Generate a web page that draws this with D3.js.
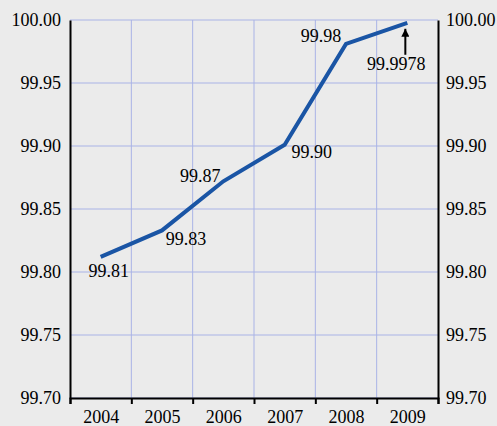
<!DOCTYPE html>
<html>
<head>
<meta charset="utf-8">
<script src="https://cdn.jsdelivr.net/npm/d3@7"></script>
<style>
    body { margin: 0; background: #ebebeb; }
    svg text { font-family: "Liberation Serif", "DejaVu Serif", serif; }
</style>
</head>
<body>
<div id="chart"></div>
<script>
// values
const years = [2004, 2005, 2006, 2007, 2008, 2009];
const values = [99.812, 99.833, 99.872, 99.901, 99.981, 99.9978];
const pointLabels = ["99.81", "99.83", "99.87", "99.90", "99.98", "99.9978"];
const yTicks = [99.70, 99.75, 99.80, 99.85, 99.90, 99.95, 100.00];
const yearEdges = [2003.5, 2004.5, 2005.5, 2006.5, 2007.5, 2008.5, 2009.5];

// label offsets from their point, in px
const labelOffsets = [[8, 20], [24, 15], [-23, 1], [27, 13], [-25, -2], [-11, 47]];

const w = 497, h = 426;
const margin = {top: 20, right: 59, bottom: 28, left: 70};
const width = w - margin.left - margin.right,
    height = h - margin.top - margin.bottom;

const gridColor = "#a9b3e6",
    lineColor = "#1a55a5",
    fontFamily = "'Liberation Serif', 'DejaVu Serif', serif";

let svg = d3.select("#chart")
    .append("svg")
    .attr("width", w)
    .attr("height", h)
    .attr("font-family", fontFamily);

let g = svg.append("g")
    .attr("transform", "translate(" + margin.left + "," + margin.top + ")");

let x = d3.scaleLinear()
    .domain([yearEdges[0], yearEdges[yearEdges.length - 1]])
    .range([0, width]);

let y = d3.scaleLinear()
    .domain([99.70, 100.00])
    .range([height, 0]);

// grid
g.append("g")
    .selectAll("line")
    .data(yTicks)
    .join("line")
    .attr("x1", 0)
    .attr("x2", width)
    .attr("y1", d => y(d))
    .attr("y2", d => y(d))
    .attr("stroke", gridColor)
    .attr("stroke-width", 1);

g.append("g")
    .selectAll("line")
    .data(yearEdges.slice(1, -1))
    .join("line")
    .attr("x1", d => x(d))
    .attr("x2", d => x(d))
    .attr("y1", 0)
    .attr("y2", height)
    .attr("stroke", gridColor)
    .attr("stroke-width", 1);

// left and right axes
let fmt = d3.format(".2f");

let left = g.append("g")
    .call(d3.axisLeft(y).tickValues(yTicks).tickSize(0).tickPadding(9).tickFormat(fmt));

let right = g.append("g")
    .attr("transform", "translate(" + width + ",0)")
    .call(d3.axisRight(y).tickValues(yTicks).tickSize(0).tickPadding(8).tickFormat(fmt));

// bottom axis: marks on the year edges, labels in the middle
let bottom = g.append("g")
    .attr("transform", "translate(0," + height + ")")
    .call(d3.axisBottom(x).tickValues(yearEdges).tickSize(6).tickSizeOuter(6).tickFormat(""));

let bottomLabels = g.append("g")
    .attr("transform", "translate(0," + height + ")")
    .call(d3.axisBottom(x).tickValues(years).tickSize(0).tickPadding(12).tickFormat(d3.format("d")));
bottomLabels.select(".domain").remove();

[left, right, bottom].forEach(a => {
    a.select(".domain").attr("stroke", "#000").attr("stroke-width", 2);
    a.selectAll(".tick line").attr("stroke", "#000").attr("stroke-width", 2);
});
[left, right, bottomLabels].forEach(a => {
    a.attr("font-family", fontFamily).attr("font-size", 18);
    a.selectAll("text").attr("fill", "#000");
});

// the line
let data = years.map((d, i) => [d, values[i]]);

let line = d3.line()
    .x(d => x(d[0]))
    .y(d => y(d[1]));

g.append("path")
    .datum(data)
    .attr("fill", "none")
    .attr("stroke", lineColor)
    .attr("stroke-width", 4)
    .attr("stroke-linejoin", "miter")
    .attr("d", line);

// point labels
g.append("g")
    .attr("font-size", 18)
    .selectAll("text")
    .data(data)
    .join("text")
    .attr("x", (d, i) => x(d[0]) + labelOffsets[i][0])
    .attr("y", (d, i) => y(d[1]) + labelOffsets[i][1])
    .attr("text-anchor", "middle")
    .attr("fill", "#000")
    .text((d, i) => pointLabels[i]);

// arrow to the last point
svg.append("defs")
    .append("marker")
    .attr("id", "head")
    .attr("viewBox", "0 0 10 10")
    .attr("refX", 10)
    .attr("refY", 5)
    .attr("markerWidth", 4)
    .attr("markerHeight", 4)
    .attr("orient", "auto")
    .append("path")
    .attr("d", "M0,0L10,5L0,10Z")
    .attr("fill", "#000");

let last = data[data.length - 1];
g.append("line")
    .attr("x1", x(last[0]) - 2)
    .attr("x2", x(last[0]) - 2)
    .attr("y1", y(last[1]) + 32)
    .attr("y2", y(last[1]) + 6)
    .attr("stroke", "#000")
    .attr("stroke-width", 2)
    .attr("marker-end", "url(#head)");
</script>
</body>
</html>
